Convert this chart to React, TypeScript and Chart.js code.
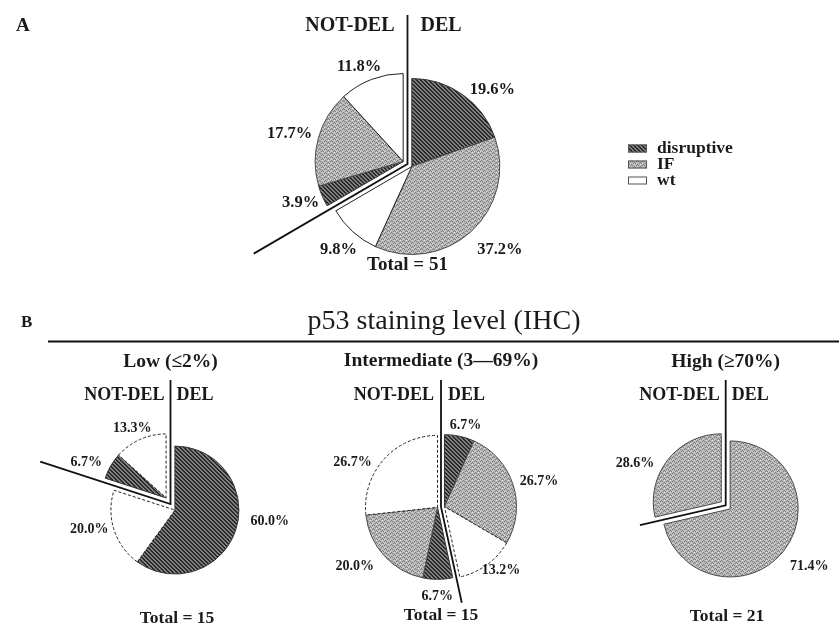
import React, { useEffect, useRef } from 'react';
import { Chart, registerables } from 'chart.js';
Chart.register(...registerables);

// ---------------- data ----------------
const CATEGORIES = ['disruptive', 'IF', 'wt'];
const GROUPS = ['DEL', 'NOT-DEL'];
const PANEL_TITLES = ['', 'Low (≤2%)', 'Intermediate (3—69%)', 'High (≥70%)'];
const SECTION_TITLE = 'p53 staining level (IHC)';
const PANEL_LETTERS = ['A', 'B'];
const TOTALS = [51, 15, 15, 21];
const ALL_DEL = [19.6, 37.2, 9.8];
const ALL_NOT_DEL = [3.9, 17.7, 11.8];
const LOW_DEL = [60.0, 0, 20.0];
const LOW_NOT_DEL = [6.7, 0, 13.3];
const INT_DEL = [6.7, 26.7, 13.2];
const INT_NOT_DEL = [6.7, 20.0, 26.7];
const HIGH_DEL = [0, 71.4, 0];
const HIGH_NOT_DEL = [0, 28.6, 0];

const PANEL_VALUES = [
  [ALL_DEL, ALL_NOT_DEL],
  [LOW_DEL, LOW_NOT_DEL],
  [INT_DEL, INT_NOT_DEL],
  [HIGH_DEL, HIGH_NOT_DEL],
];

// ---------------- layout / style ----------------
const W = 839;
const H = 628;
const FONT = "'Liberation Serif', 'Times New Roman', serif";
const TEXT = '#1a1a1a';

const LAYOUT = [
  { cx: 407.5, cy: 164, r: 88, gap: 5, lineTop: 15, cutLen: 178, headY: 26, headGap: 13, headSize: 20, titleY: 0, titleSize: 0, totalX: 407.5, totalY: 265, totalSize: 19, labelSize: 16.5, labelPad: 10, dashed: false },
  { cx: 170.5, cy: 504, r: 64, gap: 7.5, lineTop: 380, cutLen: 137, headY: 395.5, headGap: 6, headSize: 18, titleY: 362, titleSize: 19.5, totalX: 177, totalY: 618, totalSize: 17.5, labelSize: 14, labelPad: 8, dashed: true },
  { cx: 441, cy: 507, r: 72, gap: 3.5, lineTop: 380, cutLen: 98, headY: 395.5, headGap: 7, headSize: 18, titleY: 361, titleSize: 19.5, totalX: 441, totalY: 615, totalSize: 17.5, labelSize: 14, labelPad: 8, dashed: true },
  { cx: 725.7, cy: 505.4, r: 68, gap: 5.7, lineTop: 380, cutLen: 88, headY: 395.5, headGap: 6, headSize: 18, titleY: 362, titleSize: 19.5, totalX: 727, totalY: 616.5, totalSize: 17.5, labelSize: 14, labelPad: 8, dashed: true },
];

// hand placement nudges of the percentage labels (slice order: DEL then NOT-DEL)
const LABEL_NUDGES = [
  [[18, 20], [13, -1], [8, 1], [1, -8], [-1, 3], [-8, 7]],
  [[12, -11], [6, -3], [-8, 3], [-4, 1]],
  [[6, 5], [3, 5], [4, -14], [-4, 4], [-14, -6], [-16, 21]],
  [[10, 2], [-17, 17]],
];

const LEGEND = { x: 628, rows: [148.5, 164.5, 180.5], sw: 19, sh: 8, textX: 657, size: 17.5 };
const BORDERS = ['#333333', '#4a4a4a', '#222222'];

function makeFills(ctx: CanvasRenderingContext2D) {
  // disruptive: dark downward diagonal hatch
  const t1 = document.createElement('canvas');
  t1.width = 4; t1.height = 4;
  const g1 = t1.getContext('2d')!;
  g1.fillStyle = '#808080';
  g1.fillRect(0, 0, 4, 4);
  g1.fillStyle = '#2a2a2a';
  for (let i = 0; i < 4; i++) {
    g1.fillRect(i, i, 1, 1);
    g1.fillRect((i + 1) % 4, i, 1, 1);
  }
  // IF: light grey stipple
  const t2 = document.createElement('canvas');
  const rows = ['CDCCWC', 'DCDCCC', 'CCCCDC', 'WCCDCD'];
  t2.width = 6; t2.height = 4;
  const g2 = t2.getContext('2d')!;
  const cmap: Record<string, string> = { C: '#bababa', D: '#7a7a7a', W: '#dcdcdc' };
  rows.forEach((row, y) => row.split('').forEach((ch, x) => {
    g2.fillStyle = cmap[ch];
    g2.fillRect(x, y, 1, 1);
  }));
  return [ctx.createPattern(t1, 'repeat')!, ctx.createPattern(t2, 'repeat')!, '#ffffff'];
}

function createPanel(canvas: HTMLCanvasElement, p: number) {
  const L = LAYOUT[p];
  const vals: number[] = [];
  const cats: number[] = [];
  const groups: number[] = [];
  PANEL_VALUES[p].forEach((arr, g) => arr.forEach((v, c) => {
    if (v > 0) { vals.push(v); cats.push(c); groups.push(g); }
  }));
  const ctx = canvas.getContext('2d')!;
  const fills = makeFills(ctx);
  const halfW = Math.min(L.cx, W - L.cx);
  const halfH = Math.min(L.cy, H - L.cy);

  const splitPlugin = {
    id: 'groupSplit' + p,
    afterDatasetsUpdate(chart: any) {
      const meta = chart.getDatasetMeta(0);
      const ranges: Record<number, { s: number; e: number }> = {};
      meta.data.forEach((el: any, i: number) => {
        const g = groups[i];
        if (!ranges[g]) ranges[g] = { s: el.startAngle, e: el.endAngle };
        ranges[g].s = Math.min(ranges[g].s, el.startAngle);
        ranges[g].e = Math.max(ranges[g].e, el.endAngle);
      });
      meta.data.forEach((el: any, i: number) => {
        const rg = ranges[groups[i]];
        const mid = (rg.s + rg.e) / 2;
        el.x += Math.cos(mid) * L.gap;
        el.y += Math.sin(mid) * L.gap;
      });
    },
  };

  const decorPlugin = {
    id: 'decor' + p,
    afterDatasetsDraw(chart: any) {
      const c = chart.ctx as CanvasRenderingContext2D;
      const meta = chart.getDatasetMeta(0);
      const area = chart.chartArea;
      const cx = (area.left + area.right) / 2;
      const cy = (area.top + area.bottom) / 2;
      c.save();
      // separator lines
      const firstNot = meta.data[groups.indexOf(1)];
      const a = firstNot.startAngle;
      c.strokeStyle = '#111';
      c.lineWidth = 1.8;
      c.lineJoin = 'miter';
      c.beginPath();
      c.moveTo(cx, L.lineTop);
      c.lineTo(cx, cy);
      c.lineTo(cx + Math.cos(a) * L.cutLen, cy + Math.sin(a) * L.cutLen);
      c.stroke();
      // headers
      c.fillStyle = TEXT;
      c.textBaseline = 'middle';
      c.font = `bold ${L.headSize}px ${FONT}`;
      c.textAlign = 'right';
      c.fillText(GROUPS[1], cx - L.headGap, L.headY);
      c.textAlign = 'left';
      c.fillText(GROUPS[0], cx + L.headGap, L.headY);
      c.textAlign = 'center';
      if (PANEL_TITLES[p]) {
        c.font = `bold ${L.titleSize}px ${FONT}`;
        c.fillText(PANEL_TITLES[p], cx, L.titleY);
      }
      c.font = `bold ${L.totalSize}px ${FONT}`;
      c.fillText(`Total = ${TOTALS[p]}`, L.totalX, L.totalY);
      // percentage labels
      c.font = `bold ${L.labelSize}px ${FONT}`;
      meta.data.forEach((el: any, i: number) => {
        const mid = (el.startAngle + el.endAngle) / 2;
        const txt = `${vals[i].toFixed(1)}%`;
        const w = c.measureText(txt).width;
        const h = L.labelSize * 0.7;
        const d = el.outerRadius + L.labelPad + Math.abs(Math.cos(mid)) * w / 2 + Math.abs(Math.sin(mid)) * h / 2;
        const nudge = LABEL_NUDGES[p][i] || [0, 0];
        c.fillText(txt, cx + Math.cos(mid) * d + nudge[0], cy + Math.sin(mid) * d + nudge[1]);
      });
      if (p === 0) {
        // page-level text, rule and legend
        c.textAlign = 'left';
        c.font = `bold 19px ${FONT}`;
        c.fillText(PANEL_LETTERS[0], 16, 26);
        c.font = `bold 17px ${FONT}`;
        c.fillText(PANEL_LETTERS[1], 21, 323);
        c.textAlign = 'center';
        c.font = `28px ${FONT}`;
        c.fillText(SECTION_TITLE, 444, 322);
        c.beginPath();
        c.lineWidth = 2;
        c.moveTo(48, 341.5);
        c.lineTo(W, 341.5);
        c.stroke();
        c.textAlign = 'left';
        c.font = `bold ${LEGEND.size}px ${FONT}`;
        CATEGORIES.forEach((name, k) => {
          const y = LEGEND.rows[k];
          c.fillStyle = fills[k] as any;
          c.fillRect(LEGEND.x, y - LEGEND.sh / 2, LEGEND.sw, LEGEND.sh);
          c.strokeStyle = '#555';
          c.lineWidth = 1;
          c.strokeRect(LEGEND.x + 0.5, y - LEGEND.sh / 2 + 0.5, LEGEND.sw - 1, LEGEND.sh - 1);
          c.fillStyle = TEXT;
          c.fillText(name, LEGEND.textX, y);
        });
      }
      c.restore();
    },
  };

  return new Chart(canvas, {
    type: 'pie',
    data: {
      labels: vals.map((_, i) => `${GROUPS[groups[i]]} ${CATEGORIES[cats[i]]}`),
      datasets: [{
        data: vals,
        radius: L.r,
        backgroundColor: cats.map((c) => fills[c]),
        borderColor: cats.map((c) => BORDERS[c]),
        borderWidth: 1,
        borderDash: (ctx: any) => (L.dashed && cats[ctx.dataIndex] === 2 ? [3, 2] : []),
      } as any],
    },
    options: {
      responsive: false,
      animation: false,
      devicePixelRatio: 1,
      events: [],
      layout: {
        padding: {
          left: L.cx - halfW,
          right: W - (L.cx + halfW),
          top: L.cy - halfH,
          bottom: H - (L.cy + halfH),
        },
      },
      plugins: { legend: { display: false }, tooltip: { enabled: false } },
    } as any,
    plugins: [splitPlugin, decorPlugin],
  });
}

export default function App() {
  const canvases = useRef<(HTMLCanvasElement | null)[]>([]);
  useEffect(() => {
    const charts = PANEL_VALUES.map((_, i) => createPanel(canvases.current[i]!, i));
    return () => charts.forEach((c) => c.destroy());
  }, []);
  return (
    <div style={{ position: 'absolute', left: 0, top: 0, width: W, height: H, background: '#ffffff', overflow: 'hidden' }}>
      {PANEL_VALUES.map((_, i) => (
        <canvas
          key={i}
          ref={(el) => { canvases.current[i] = el; }}
          width={W}
          height={H}
          style={{ position: 'absolute', left: 0, top: 0 }}
        />
      ))}
    </div>
  );
}
